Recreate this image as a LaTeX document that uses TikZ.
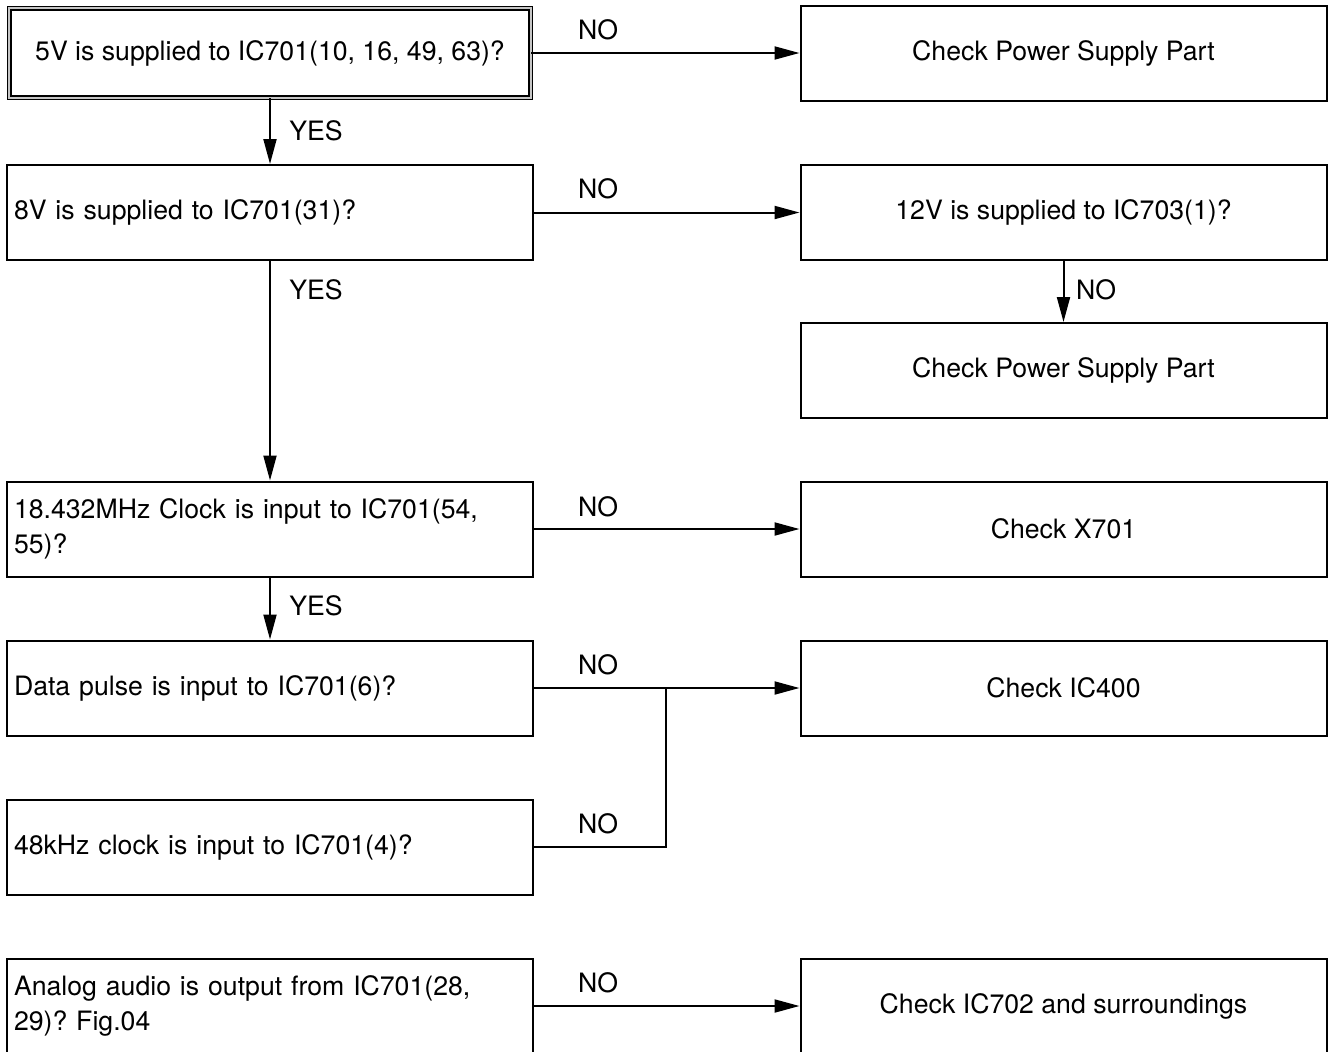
\documentclass[tikz,border=0pt]{standalone}
\usepackage{fontspec}
\setmainfont{TeX Gyre Heros}
\usetikzlibrary{arrows.meta}
\frenchspacing
\tikzset{
  box/.style={draw, line width=1.5pt, rectangle, minimum width=394.5pt, minimum height=71.25pt, inner xsep=5pt, inner ysep=0pt, font=\fontsize{20pt}{26.25pt}\selectfont},
  lbox/.style={box, text width=384pt, align=left},
  cbox/.style={box, align=center},
  dbox/.style={cbox, line width=1pt, double=gray!45, double distance=1.6pt, minimum width=391pt, minimum height=67pt},
  arr/.style={line width=1.5pt, -{Triangle[length=18.75pt,width=9.75pt]}},
  plain/.style={line width=1.5pt},
  lab/.style={inner sep=0pt, font=\fontsize{20pt}{24pt}\selectfont}
}
\begin{document}
\begin{tikzpicture}[x=0.75pt,y=-0.75pt]
\useasboundingbox (0,0) rectangle (1329,1051);
% left column
\node[dbox] (q1) at (270,53) {5V is supplied to IC701(10, 16, 49, 63)?};
\node[lbox] (q2) at (270,212.5) {8V is supplied to IC701(31)?};
\node[lbox] (q3) at (270,529) {18.432MHz Clock is input to IC701(54,\\55)?};
\node[lbox] (q4) at (270,688) {Data pulse is input to IC701(6)?};
\node[lbox] (q5) at (270,847) {48kHz clock is input to IC701(4)?};
\node[lbox] (q6) at (270,1006) {Analog audio is output from IC701(28,\\29)? Fig.04};
% right column
\node[cbox] (r1) at (1063.5,53) {Check Power Supply Part};
\node[cbox] (r2) at (1063.5,212.5) {12V is supplied to IC703(1)?};
\node[cbox] (r2b) at (1063.5,370.5) {Check Power Supply Part};
\node[cbox] (r3) at (1063.5,529) {Check X701};
\node[cbox] (r4) at (1063.5,688) {Check IC400};
\node[cbox] (r6) at (1063.5,1006) {Check IC702 and surroundings};
% connectors
\draw[arr] (q1.east) -- (r1.west);
\draw[arr] (q2.east) -- (r2.west);
\draw[arr] (q3.east) -- (r3.west);
\draw[arr] (q4.east) -- (r4.west);
\draw[arr] (q6.east) -- (r6.west);
\coordinate (j) at (666,688);
\draw[plain] (q5.east) -| (j);
\draw[arr] (q1.south) -- (q2.north);
\draw[arr] (q2.south) -- (q3.north);
\draw[arr] (q3.south) -- (q4.north);
\draw[arr] (r2.south) -- (r2b.north);
% labels
\node[lab] (n1) at (598,30) {NO};
\node[lab] (n2) at (598,189) {NO};
\node[lab] (n3) at (598,507) {NO};
\node[lab] (n4) at (598,665) {NO};
\node[lab] (n5) at (598,824) {NO};
\node[lab] (n6) at (598,983) {NO};
\node[lab] (y1) at (316,131) {YES};
\node[lab] (y2) at (316,290) {YES};
\node[lab] (y3) at (316,606) {YES};
\node[lab] (nr) at (1096,290) {NO};
\end{tikzpicture}
\end{document}
